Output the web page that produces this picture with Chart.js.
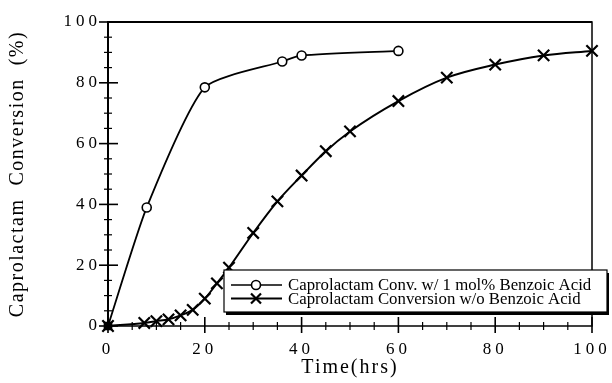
<!DOCTYPE html>
<html>
<head>
<meta charset="utf-8">
<script src="https://cdn.jsdelivr.net/npm/chart.js@4.4.1/dist/chart.umd.min.js"></script>
<style>
  body { margin: 0; background: #fff; }
</style>
</head>
<body>
<canvas id="conversion" width="612" height="383"></canvas>
<script>
// values
const timeWithAcid = [0, 8, 20, 36, 40, 60];
const convWithAcid = [0, 39, 78.5, 87, 89, 90.5];
const timeNoAcid = [0, 7.5, 10, 12.5, 15, 17.5, 20, 22.5, 25, 30, 35, 40, 45, 50, 60, 70, 80, 90, 100];
const convNoAcid = [0, 1, 1.6, 2.2, 3.5, 5.3, 9, 14, 19.2, 30.6, 41, 49.5, 57.5, 64, 74, 81.7, 86, 89, 90.5];
const seriesLabels = ["Caprolactam Conv. w/ 1 mol% Benzoic Acid", "Caprolactam Conversion w/o Benzoic Acid"];
const xTitle = "Time(hrs)";
const yTitle = "Caprolactam  Conversion  (%)";

const serif = '"Liberation Serif", "Times New Roman", serif';
const titleSpacing = { x: '2px', y: '1.5px' };

function toPoints(xs, ys) {
    return xs.map((x, i) => ({ x: x, y: ys[i] }));
}

// spaced-out lettering for the axis text, normal for the rest
const spacing = {
    id: 'spacing',
    beforeDraw(chart) {
        ['x', 'y'].forEach(id => {
            const s = chart.scales[id];
            if (s.drawTitle.spaced) return;
            const orig = s.drawTitle;
            const wrapped = function () {
                const prev = this.ctx.letterSpacing;
                this.ctx.letterSpacing = titleSpacing[id];
                orig.call(this);
                this.ctx.letterSpacing = prev;
            };
            wrapped.spaced = true;
            s.drawTitle = wrapped;
        });
        chart.ctx.letterSpacing = '4px';
    },
    beforeDatasetsDraw(chart) { chart.ctx.letterSpacing = '0px'; }
};

// frame plus ticks that cross the axis lines
const frameTicks = {
    id: 'frameTicks',
    beforeDatasetsDraw(chart) {
        const ctx = chart.ctx, ca = chart.chartArea;
        const xs = chart.scales.x, ys = chart.scales.y;
        ctx.save();
        ctx.strokeStyle = '#000';
        ctx.lineWidth = 1.5;
        ctx.strokeRect(ca.left, ca.top, ca.right - ca.left, ca.bottom - ca.top);
        ctx.lineWidth = 2;
        ctx.beginPath();
        ctx.moveTo(ca.left, ca.bottom);
        ctx.lineTo(ca.left, ca.top);
        ctx.lineTo(ca.right, ca.top);
        ctx.stroke();

        xs.ticks.forEach(t => {
            const px = xs.getPixelForValue(t.value);
            const major = t.value % 20 === 0;
            ctx.lineWidth = major ? 1.6 : 1.2;
            ctx.beginPath();
            ctx.moveTo(px, ca.bottom - (major ? 9 : 4));
            ctx.lineTo(px, ca.bottom + (major ? 7 : 4));
            ctx.stroke();
        });
        ys.ticks.forEach(t => {
            const py = ys.getPixelForValue(t.value);
            const major = t.value % 20 === 0;
            ctx.lineWidth = major ? 1.6 : 1.2;
            ctx.beginPath();
            ctx.moveTo(ca.left - (major ? 9 : 4), py);
            ctx.lineTo(ca.left + (major ? 10 : 4), py);
            ctx.stroke();
        });
        ctx.restore();
    }
};

function drawCircle(ctx, x, y) {
    ctx.beginPath();
    ctx.arc(x, y, 4.5, 0, Math.PI * 2);
    ctx.fillStyle = '#fff';
    ctx.fill();
    ctx.stroke();
}

function drawCross(ctx, x, y) {
    ctx.beginPath();
    ctx.moveTo(x - 5, y - 5); ctx.lineTo(x + 5, y + 5);
    ctx.moveTo(x + 5, y - 5); ctx.lineTo(x - 5, y + 5);
    ctx.stroke();
}

// boxed legend with a drop shadow, sitting inside the lower right
const boxLegend = {
    id: 'boxLegend',
    afterDraw(chart) {
        const ctx = chart.ctx, ca = chart.chartArea;
        const left = ca.left + 116, top = ca.bottom - 56, w = 383, h = 42;
        ctx.save();
        ctx.letterSpacing = '0px';
        ctx.fillStyle = '#000';
        ctx.fillRect(left + 2, top + 3, w, h);
        ctx.fillStyle = '#fff';
        ctx.fillRect(left, top, w, h);
        ctx.strokeStyle = '#000';
        ctx.lineWidth = 1.2;
        ctx.strokeRect(left, top, w, h);

        ctx.font = '16px ' + serif;
        const fit = 16 * 303 / ctx.measureText(seriesLabels[0]).width;
        ctx.font = Math.min(17, fit).toFixed(1) + 'px ' + serif;
        ctx.textBaseline = 'alphabetic';
        ctx.textAlign = 'left';

        const rows = [top + 15, top + 28.5];
        rows.forEach((ry, i) => {
            ctx.strokeStyle = '#000';
            ctx.lineWidth = i === 0 ? 1.5 : 2;
            ctx.beginPath();
            ctx.moveTo(left + 7, ry);
            ctx.lineTo(left + 58, ry);
            ctx.stroke();
            ctx.lineWidth = 1.6;
            if (i === 0) drawCircle(ctx, left + 32, ry);
            else { ctx.lineWidth = 2.2; drawCross(ctx, left + 32, ry); }
            ctx.fillStyle = '#000';
            ctx.fillText(seriesLabels[i], left + 64, ry + 5);
        });
        ctx.restore();
    }
};

new Chart("conversion", {
    type: "line",
    data: {
        datasets: [
            {
                label: seriesLabels[0],
                data: toPoints(timeWithAcid, convWithAcid),
                borderColor: '#000',
                borderWidth: 1.8,
                tension: 0.2,
                pointStyle: c => c.dataIndex === 0 ? 'rect' : 'circle',
                pointRadius: c => c.dataIndex === 0 ? 5 : 4.5,
                pointBorderWidth: 1.6,
                pointBorderColor: '#000',
                pointBackgroundColor: c => c.dataIndex === 0 ? '#000' : '#fff',
                clip: false
            },
            {
                label: seriesLabels[1],
                data: toPoints(timeNoAcid, convNoAcid),
                borderColor: '#000',
                borderWidth: 2,
                cubicInterpolationMode: 'monotone',
                pointStyle: 'crossRot',
                pointRadius: 8,
                pointBorderWidth: 2.2,
                pointBorderColor: '#000',
                clip: false
            }
        ]
    },
    options: {
        responsive: false,
        animation: false,
        layout: { padding: { top: 22, right: 20, left: 0, bottom: 0 } },
        plugins: {
            legend: { display: false },
            tooltip: { enabled: false }
        },
        scales: {
            x: {
                type: 'linear',
                min: 0,
                max: 100,
                grid: { display: false, drawTicks: false },
                border: { display: false },
                ticks: {
                    stepSize: 5,
                    autoSkip: false,
                    maxRotation: 0,
                    padding: 13,
                    color: '#000',
                    font: { family: serif, size: 17 },
                    callback: v => v % 20 === 0 ? String(v) : ''
                },
                title: {
                    display: true,
                    text: xTitle,
                    color: '#000',
                    font: { family: serif, size: 20 },
                    padding: { top: 0, bottom: 3 }
                },
                afterFit: s => {
                    s.height = 57;
                    s.paddingLeft = 0;
                    s.paddingRight = 0;
                }
            },
            y: {
                min: 0,
                max: 100,
                grid: { display: false, drawTicks: false },
                border: { display: false },
                ticks: {
                    stepSize: 5,
                    autoSkip: false,
                    padding: 7,
                    color: '#000',
                    font: { family: serif, size: 17 },
                    callback: v => v % 20 === 0 ? String(v) : ''
                },
                title: {
                    display: true,
                    text: yTitle,
                    color: '#000',
                    font: { family: serif, size: 20 },
                    padding: { top: 6, bottom: 0 }
                },
                afterFit: s => {
                    s.width = 108;
                    s.paddingTop = 0;
                    s.paddingBottom = 0;
                }
            }
        }
    },
    plugins: [spacing, frameTicks, boxLegend]
});
</script>
</body>
</html>
